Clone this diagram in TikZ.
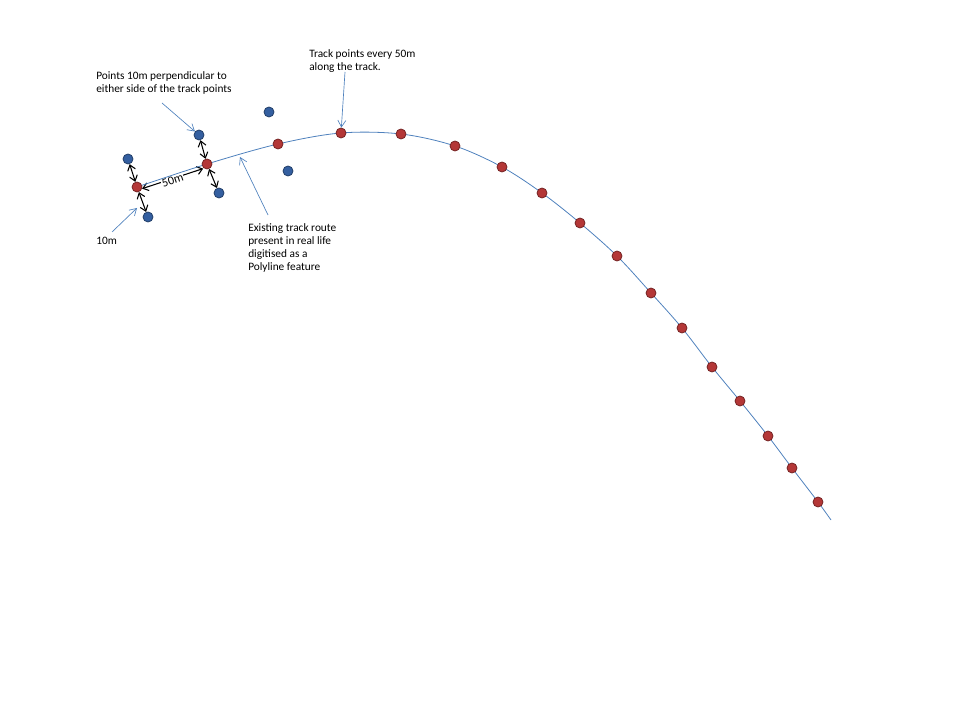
\documentclass[tikz,border=0pt]{standalone}
\usepackage{fontspec}
\setmainfont{Carlito}
\usepackage{xcolor}
\usetikzlibrary{arrows.meta, positioning}

\definecolor{lineblue}{RGB}{79,129,189}
\definecolor{dotred}{RGB}{180,55,55}
\definecolor{dotblue}{RGB}{52,95,160}

\begin{document}
\begin{tikzpicture}[
  x=0.75pt, y=-0.75pt,
  trackdot/.style={circle, draw=dotred!65!black, fill=dotred, line width=0.6pt, minimum size=7.5pt, inner sep=0pt},
  sidedot/.style={circle, draw=dotblue!65!black, fill=dotblue, line width=0.6pt, minimum size=7.5pt, inner sep=0pt},
  callout/.style={draw=lineblue, line width=0.5pt, -{Straight Barb[length=5pt, width=6pt]}},
  offsetarrow/.style={draw=black, line width=0.8pt, {Straight Barb[length=4pt, width=6pt]}-{Straight Barb[length=4pt, width=6pt]}},
  note/.style={font=\fontsize{8.5}{9.75}\selectfont, align=left, inner sep=0pt, anchor=north west}
]
\useasboundingbox (0,0) rectangle (960,720);

% track points along the route
\foreach \x/\y [count=\i] in {137/187, 207/164, 278/144, 341/133, 401/134, 455/146,
  502/167, 542/193, 580/223, 617/256, 651/293, 682/328, 712/367, 740/401,
  768/436, 792/468, 818/502}
  \coordinate (t\i) at (\x,\y);
\coordinate (tend) at (831,520);

% 50m spacing
\draw[offsetarrow, shorten <=4pt, shorten >=3pt] ([yshift=-2.5pt]t1) -- node[sloped, fill=white, inner sep=0.5pt, font=\fontsize{9}{10}\selectfont, yshift=-1.5pt] {50m} ([yshift=-2.5pt]t2);

% digitised polyline
\draw[lineblue, line width=0.6pt] plot[smooth, tension=0.55] coordinates {(t1) (t2) (t3) (t4) (t5) (t6) (t7) (t8) (t9)
  (t10) (t11) (t12) (t13) (t14) (t15) (t16) (t17) (tend)};

\foreach \i in {1,...,17}
  \node[trackdot] (p\i) at (t\i) {};

% perpendicular points
\node[sidedot] (s1a) at (128,159) {};
\node[sidedot] (s1b) at (148,217) {};
\node[sidedot] (s2a) at (199,135) {};
\node[sidedot] (s2b) at (219,193) {};
\node[sidedot] (s3a) at (269,112) {};
\node[sidedot] (s3b) at (288,171) {};

\draw[offsetarrow] (p1) -- (s1a);
\draw[offsetarrow] (p1) -- (s1b);
\draw[offsetarrow] (p2) -- (s2a);
\draw[offsetarrow] (p2) -- (s2b);

% labels
\node[note] (perp) at (96,71) {Points 10m perpendicular to\\either side of the track points};
\node[note] (every) at (309,49) {Track points every 50m\\along the track.};
\node[note] (route) at (248,223) {Existing track route\\present in real life\\digitised as a\\Polyline feature};
\node[note] (ten) at (96,237) {10m};

\coordinate (perpfrom) at (162,103);
\coordinate (everyfrom) at (345,72);
\coordinate (routefrom) at (268,215);
\coordinate (routeto) at (240,157);
\coordinate (tenfrom) at (112,232);
\coordinate (tento) at (137,208);

\draw[callout] (perpfrom) -- (s2a);
\draw[callout] (everyfrom) -- (p4);
\draw[callout] (routefrom) -- (routeto);
\draw[callout] (tenfrom) -- (tento);
\end{tikzpicture}
\end{document}
